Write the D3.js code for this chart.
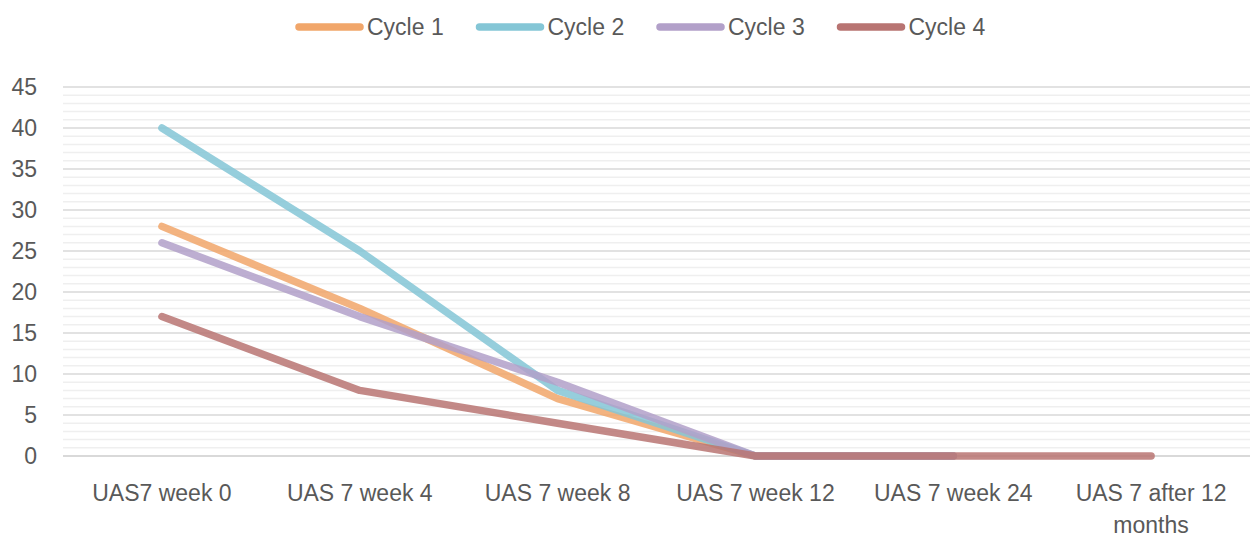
<!DOCTYPE html>
<html>
<head>
<meta charset="utf-8">
<script src="https://cdn.jsdelivr.net/npm/d3@7"></script>
<style>
  body { margin: 0; background: #fff; }
  text { font-family: "Liberation Sans", Arial, sans-serif; fill: #595959; }
</style>
</head>
<body>
<script>
'use strict';

// categories along the x axis
const categories = ["UAS7 week 0", "UAS 7 week 4", "UAS 7 week 8", "UAS 7 week 12", "UAS 7 week 24", "UAS 7 after 12 months"];
const seriesNames = ["Cycle 1", "Cycle 2", "Cycle 3", "Cycle 4"];
const seriesColors = ["#f1a66a", "#84c6d6", "#b2a0c9", "#b87472"];

// values per cycle (cycles 1-3 stop at week 24)
const cycle1 = [28, 18, 7, 0, 0];
const cycle2 = [40, 25, 8, 0, 0];
const cycle3 = [26, 17, 9, 0, 0];
const cycle4 = [17, 8, 4, 0, 0, 0];

const yTicks = [0, 5, 10, 15, 20, 25, 30, 35, 40, 45];

(function() {
  const width = 1250, height = 538;
  const plotLeft = 63, plotRight = 1250, plotTop = 87, plotBottom = 456;

  const svg = d3.select('body').append('svg')
    .attr('width', width)
    .attr('height', height);

  // scales
  const xScale = d3.scaleBand().domain(categories).range([plotLeft, plotRight]);
  const yScale = d3.scaleLinear().domain([0, 45]).range([plotBottom, plotTop]);

  // minor gridlines every 1
  svg.append('g').selectAll('line')
    .data(d3.range(0, 46).filter(v => v % 5 !== 0))
    .enter().append('line')
    .attr('x1', plotLeft).attr('x2', plotRight)
    .attr('y1', d => yScale(d)).attr('y2', d => yScale(d))
    .style('stroke', '#efefef')
    .style('stroke-width', 1.5);

  // major gridlines
  svg.append('g').selectAll('line')
    .data(yTicks)
    .enter().append('line')
    .attr('x1', plotLeft).attr('x2', plotRight)
    .attr('y1', d => yScale(d)).attr('y2', d => yScale(d))
    .style('stroke', '#d9d9d9')
    .style('stroke-width', d => d === 0 ? 2 : 1.5);

  // y axis labels
  let yAxis = d3.axisLeft(yScale).tickValues(yTicks).tickSize(0).tickPadding(26);
  let yG = svg.append('g').attr('transform', `translate(${plotLeft}, 0)`).call(yAxis);
  yG.select('.domain').remove();
  yG.selectAll('text').style('font-size', '23px').style('fill', '#595959')
    .style('font-family', '"Liberation Sans", Arial, sans-serif');

  // x axis labels
  let xAxis = d3.axisBottom(xScale).tickSize(0).tickPadding(0);
  let xG = svg.append('g').attr('transform', `translate(0, ${plotBottom})`).call(xAxis);
  xG.select('.domain').remove();
  xG.selectAll('text').remove();
  xG.selectAll('.tick').each(function(d) {
    let t = d3.select(this).append('text')
      .attr('text-anchor', 'middle')
      .style('font-size', '23px')
      .style('font-family', '"Liberation Sans", Arial, sans-serif')
      .style('fill', '#595959');
    let lines = d === "UAS 7 after 12 months" ? ["UAS 7 after 12", "months"] : [d];
    lines.forEach((s, i) => {
      t.append('tspan').attr('x', 0).attr('y', 45 + i * 32).text(s);
    });
  });

  // lines
  const allSeries = [cycle1, cycle2, cycle3, cycle4];
  const line = d3.line()
    .x((d, i) => xScale(categories[i]) + xScale.bandwidth() / 2)
    .y(d => yScale(d));

  allSeries.forEach((vals, k) => {
    svg.append('path')
      .datum(vals)
      .attr('d', line)
      .style('fill', 'none')
      .style('stroke', seriesColors[k])
      .style('stroke-opacity', 0.85)
      .style('stroke-width', 7.5)
      .style('stroke-linecap', 'round')
      .style('stroke-linejoin', 'round');
  });

  // legend
  const legendX = d3.scaleLinear().domain([0, 1]).range([296, 476.5]);
  const legend = svg.append('g');
  seriesNames.forEach((name, k) => {
    let x0 = legendX(k);
    legend.append('line')
      .attr('x1', x0 + 3).attr('x2', x0 + 64)
      .attr('y1', 27).attr('y2', 27)
      .style('stroke', seriesColors[k])
      .style('stroke-width', 7.5)
      .style('stroke-linecap', 'round');
    legend.append('text')
      .attr('x', x0 + 71)
      .attr('y', 35)
      .style('font-size', '23px')
      .text(name);
  });
})();
</script>
</body>
</html>
